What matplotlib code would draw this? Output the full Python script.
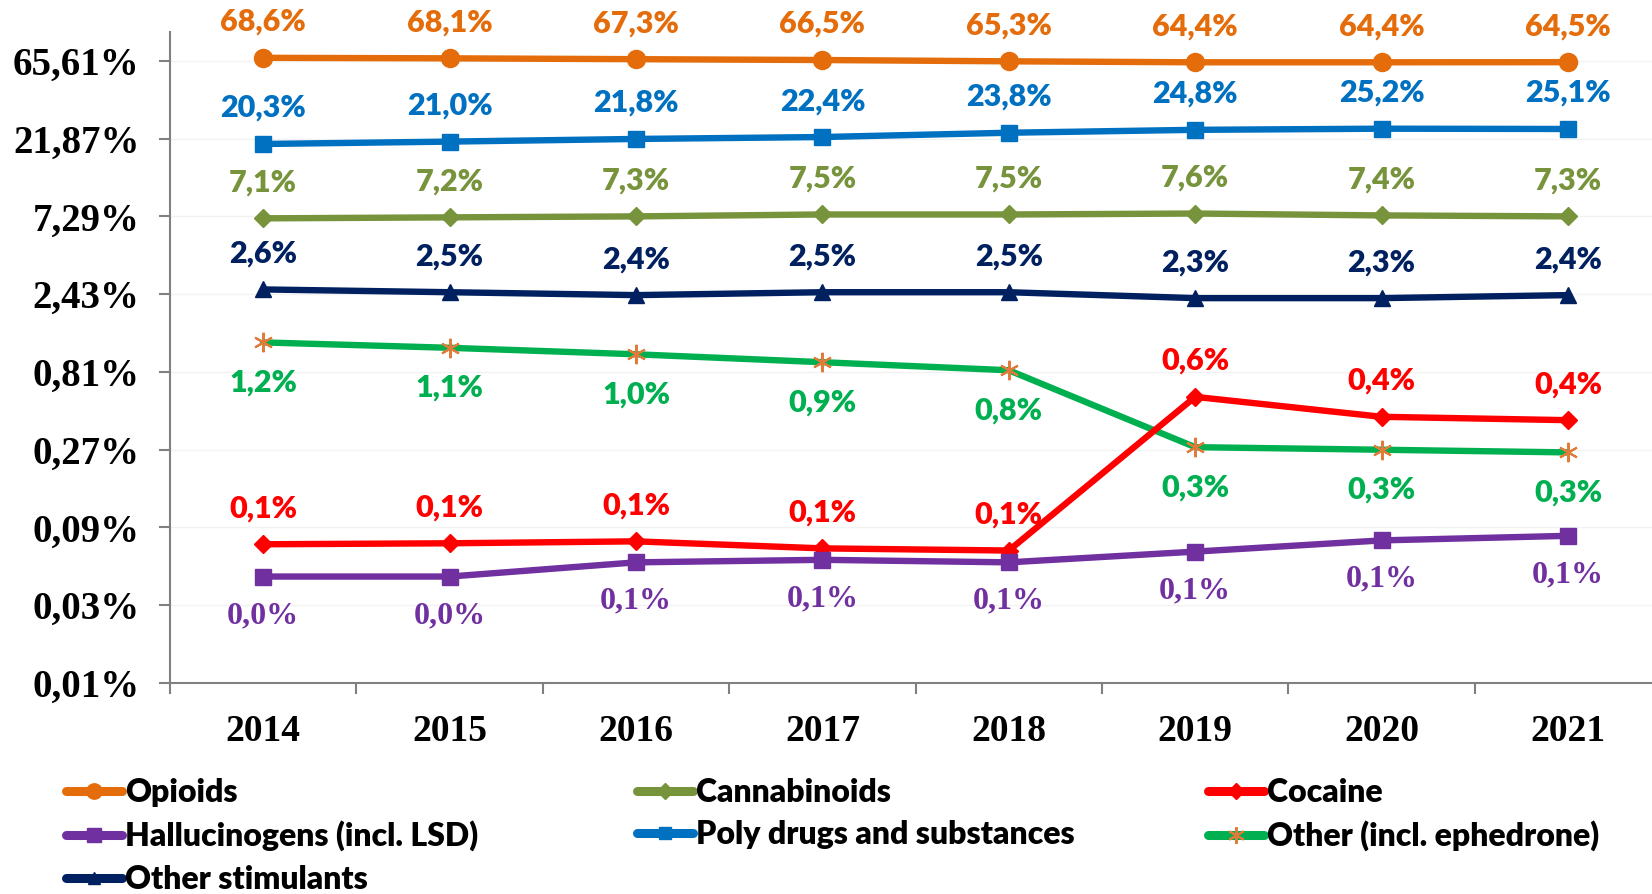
import numpy as np
import matplotlib
matplotlib.use('Agg')
import matplotlib.pyplot as plt
from matplotlib.lines import Line2D

# 数据
years = ['2014', '2015', '2016', '2017', '2018', '2019', '2020', '2021']

opioids = [68.6, 68.1, 67.3, 66.5, 65.3, 64.4, 64.4, 64.5]
poly = [20.3, 21.0, 21.8, 22.4, 23.8, 24.8, 25.2, 25.1]
cannabinoids = [7.1, 7.2, 7.3, 7.5, 7.5, 7.6, 7.4, 7.3]
stimulants = [2.6, 2.5, 2.4, 2.5, 2.5, 2.3, 2.3, 2.4]
other = [1.23, 1.14, 1.04, 0.93, 0.83, 0.28, 0.27, 0.26]
cocaine = [0.071, 0.072, 0.074, 0.067, 0.065, 0.57, 0.43, 0.41]
halluc = [0.045, 0.045, 0.055, 0.057, 0.055, 0.064, 0.075, 0.080]

# 数据标签
opioids_lab = ['68,6%', '68,1%', '67,3%', '66,5%', '65,3%', '64,4%', '64,4%', '64,5%']
poly_lab = ['20,3%', '21,0%', '21,8%', '22,4%', '23,8%', '24,8%', '25,2%', '25,1%']
cannabinoids_lab = ['7,1%', '7,2%', '7,3%', '7,5%', '7,5%', '7,6%', '7,4%', '7,3%']
stimulants_lab = ['2,6%', '2,5%', '2,4%', '2,5%', '2,5%', '2,3%', '2,3%', '2,4%']
other_lab = ['1,2%', '1,1%', '1,0%', '0,9%', '0,8%', '0,3%', '0,3%', '0,3%']
cocaine_lab = ['0,1%', '0,1%', '0,1%', '0,1%', '0,1%', '0,6%', '0,4%', '0,4%']
halluc_lab = ['0,0%', '0,0%', '0,1%', '0,1%', '0,1%', '0,1%', '0,1%', '0,1%']

# y轴刻度
yticks = [0.01, 0.03, 0.09, 0.27, 0.81, 2.43, 7.29, 21.87, 65.61]
ytick_labels = ['0,01%', '0,03%', '0,09%', '0,27%', '0,81%', '2,43%', '7,29%', '21,87%', '65,61%']

sans = ['Lato', 'DejaVu Sans']
serif = ['Liberation Serif', 'DejaVu Serif']

fig = plt.figure(figsize=(16.52, 8.94), dpi=100)
ax = fig.add_axes([170 / 1652, (894 - 683) / 894, 8 * 186.4 / 1652, (683 - 32) / 894])

x = np.arange(len(years))

# 每条线: 数据, 标签, 名称, 颜色, marker, markersize, 标签偏移, 标签字体, 字号
series = [
    (opioids, opioids_lab, 'Opioids', '#E46C0A', 'o', 13, 36, sans, 22),
    (poly, poly_lab, 'Poly drugs and substances', '#0070C0', 's', 11, 36, sans, 22),
    (cannabinoids, cannabinoids_lab, 'Cannabinoids', '#77933C', 'D', 9, 36, sans, 22),
    (stimulants, stimulants_lab, 'Other stimulants', '#002060', '^', 11, 36, sans, 22),
    (other, other_lab, 'Other (incl. ephedrone)', '#00B050', (6, 2, 0), 14, -40, sans, 22),
    (cocaine, cocaine_lab, 'Cocaine', '#FF0000', 'D', 9, 36, sans, 22),
    (halluc, halluc_lab, 'Hallucinogens (incl. LSD)', '#7030A0', 's', 12, -39, serif, 23),
]

handles = {}
for vals, labs, name, color, marker, ms, off, fam, fs in series:
    if name == 'Other (incl. ephedrone)':
        kw = dict(markeredgecolor='#E07B39', markerfacecolor='#E07B39', markeredgewidth=1.5)
    else:
        kw = dict(markeredgecolor=color, markerfacecolor=color)
    ln, = ax.plot(x, vals, color=color, linewidth=4.6, marker=marker, markersize=ms,
                  solid_capstyle='round', zorder=3, **kw)
    handles[name] = ln
    for xi, v, t in zip(x, vals, labs):
        ax.annotate(t, (xi, v), xytext=(0, off), textcoords='offset pixels',
                    ha='center', va='center', color=color, fontsize=fs,
                    fontweight='heavy', family=fam, annotation_clip=False)

ax.set_yscale('log', base=3)
ax.set_ylim(0.01, 98.8)
ax.set_xlim(-0.5, 7.5)
ax.set_yticks(yticks)
ax.set_yticklabels(ytick_labels, family=serif, fontweight='bold', fontsize=28)
ax.minorticks_off()
ax.yaxis.grid(True, color='#F2F2F2', linewidth=1)
ax.set_axisbelow(True)

# x轴: 刻度线在类别之间, 标签在中间
ax.set_xticks(np.arange(-0.5, 8.0, 1.0))
ax.set_xticklabels([])
ax.set_xticks(x, minor=True)
ax.set_xticklabels(years, minor=True, family=serif, fontweight='bold', fontsize=27)
ax.tick_params(axis='x', which='minor', length=0, pad=22)
ax.tick_params(axis='x', which='major', length=8, width=1.5, color='#808080', direction='out')
ax.tick_params(axis='y', length=8, width=1.5, color='#808080', direction='out', pad=14)

for s in ['top', 'right']:
    ax.spines[s].set_visible(False)
for s in ['left', 'bottom']:
    ax.spines[s].set_color('#808080')
    ax.spines[s].set_linewidth(1.5)

# 图例, 三列分别画
cols = [
    (['Opioids', 'Hallucinogens (incl. LSD)', 'Other stimulants'], 66),
    (['Cannabinoids', 'Poly drugs and substances'], 637),
    (['Cocaine', 'Other (incl. ephedrone)'], 1208),
]
for names, px in cols:
    hs = []
    for n in names:
        h = handles[n]
        hs.append(Line2D([], [], color=h.get_color(), linewidth=6.5, marker=h.get_marker(),
                         markersize=h.get_markersize() * 0.85,
                         markerfacecolor=h.get_markerfacecolor(),
                         markeredgecolor=h.get_markeredgecolor(),
                         markeredgewidth=h.get_markeredgewidth(),
                         solid_capstyle='round'))
    leg = fig.legend(hs, names, loc='upper left', bbox_to_anchor=(px / 1652, 1 - 778 / 894),
                     frameon=False, borderpad=0, borderaxespad=0, handlelength=1.75,
                     handletextpad=0.1, labelspacing=0.42,
                     prop={'family': sans, 'weight': 'heavy', 'size': 23})

fig.savefig('out.png', dpi=100)
